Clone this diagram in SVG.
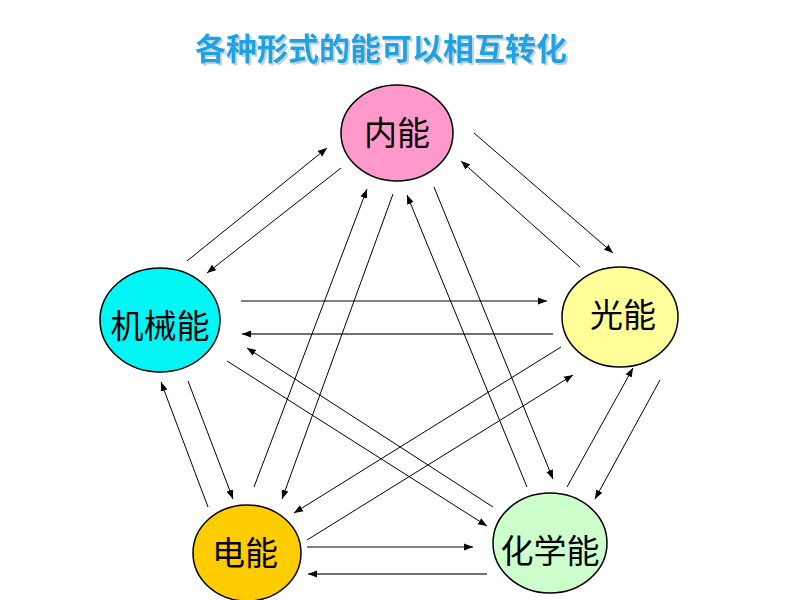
<svg xmlns="http://www.w3.org/2000/svg" width="800" height="600" viewBox="0 0 800 600">
<style>
.node{stroke:#000;stroke-width:1.5}
.lbl{font-family:"Noto Sans CJK SC","Noto Sans CJK TC",sans-serif;font-size:33px;fill:#000;text-anchor:middle}
.title{font-family:"Noto Sans CJK SC",sans-serif;font-size:31px;font-weight:bold}
.c line{stroke:#000;stroke-width:1;marker-end:url(#ah)}
.c line.g{stroke:#707070;stroke-width:2}
</style>
<defs>
<marker id="ah" markerUnits="userSpaceOnUse" markerWidth="10" markerHeight="8" refX="9" refY="4" orient="auto">
<path d="M0,0.5 L9,4 L0,7.5 Z" fill="#000"/>
</marker>
<filter id="sh" x="-5%" y="-20%" width="110%" height="150%">
<feOffset in="SourceAlpha" dx="2" dy="2" result="o"/>
<feFlood flood-color="#c5d3dc"/>
<feComposite in2="o" operator="in" result="s"/>
<feMerge><feMergeNode in="s"/><feMergeNode in="SourceGraphic"/></feMerge>
</filter>
</defs>
<rect width="800" height="600" fill="#fff"/>
<g id="title">
<text class="title" x="195" y="60" fill="#1ca3e3" filter="url(#sh)">各种形式的能可以相互转化</text>
</g>
<g id="n-neineng"><ellipse class="node" cx="397" cy="133" rx="56" ry="48" fill="#ff99cc"/><text class="lbl" x="397" y="145">内能</text></g>
<g id="n-jixie"><ellipse class="node" cx="160" cy="320" rx="60" ry="52" fill="#00f5f5"/><text class="lbl" x="160" y="338">机械能</text></g>
<g id="n-guang"><ellipse class="node" cx="620" cy="317" rx="58" ry="50" fill="#ffff99"/><text class="lbl" x="623" y="327">光能</text></g>
<g id="n-dian"><ellipse class="node" cx="247" cy="553" rx="54" ry="48" fill="#ffcc00"/><text class="lbl" x="245" y="565">电能</text></g>
<g id="n-huaxue"><ellipse class="node" cx="550" cy="543" rx="57" ry="50" fill="#ccffcc"/><text class="lbl" x="550" y="563">化学能</text></g>
<g id="connectors" class="c">
<line x1="187" y1="261" x2="327" y2="148"/>
<line x1="341" y1="168" x2="207" y2="273"/>
<line x1="241" y1="301" x2="547" y2="301"/>
<line class="g" x1="553" y1="334" x2="242" y2="334"/>
<line x1="254" y1="487" x2="367" y2="189"/>
<line x1="393" y1="194" x2="282" y2="499"/>
<line x1="527" y1="487" x2="407" y2="195"/>
<line x1="434" y1="187" x2="553" y2="479"/>
<line x1="474" y1="133" x2="613" y2="253"/>
<line x1="580" y1="267" x2="461" y2="161"/>
<line x1="227" y1="361" x2="487" y2="526"/>
<line x1="493" y1="507" x2="247" y2="348"/>
<line x1="561" y1="347" x2="294" y2="513"/>
<line x1="307" y1="540" x2="573" y2="375"/>
<line x1="307" y1="547" x2="473" y2="547"/>
<line class="g" x1="487" y1="574" x2="308" y2="574"/>
<line x1="567" y1="487" x2="633" y2="368"/>
<line x1="660" y1="380" x2="595" y2="499"/>
<line x1="208" y1="507" x2="161" y2="382"/>
<line x1="188" y1="381" x2="233" y2="499"/>
</g>
</svg>
